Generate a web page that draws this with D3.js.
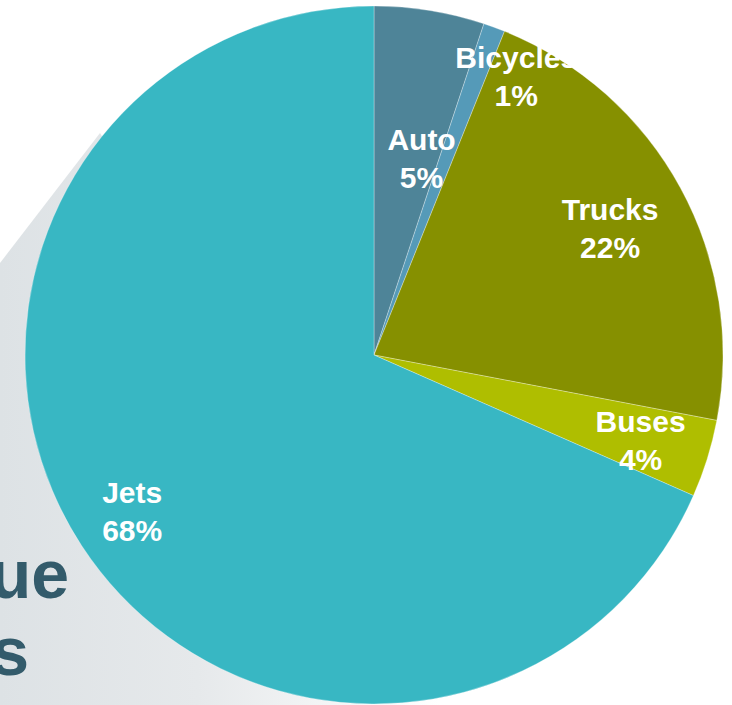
<!DOCTYPE html>
<html>
<head>
<meta charset="utf-8">
<script src="https://d3js.org/d3.v7.min.js"></script>
<style>
  body { margin: 0; background: #ffffff; }
  svg { display: block; }
</style>
</head>
<body>
<div id="pie-plot"></div>
<script>
// slice data (share of revenue, %)
var categories = ["Auto", "Bicycles", "Trucks", "Buses", "Jets"];
var shares = [5.1, 1.0, 21.9, 3.6, 68.4];
var shareLabels = ["5%", "1%", "22%", "4%", "68%"];
var sliceColors = ["#4e8498", "#559ab8", "#869000", "#afbe00", "#38b7c3"];

// the slide title sitting behind the pie (cut off at the left edge)
var titleLines = ["Revenue", "by Sectors"];

var width = 732,
    height = 705,
    radius = 349,
    cx = 374,
    cy = 355;

var svg = d3.select("#pie-plot")
  .append("svg")
    .attr("width", width)
    .attr("height", height);

// grey backdrop panel with a soft gradient to white
var defs = svg.append("defs");
var grad = defs.append("linearGradient")
  .attr("id", "panel-grad")
  .attr("x1", "0%").attr("x2", "100%")
  .attr("y1", "0%").attr("y2", "0%");
grad.append("stop").attr("offset", "0%").attr("stop-color", "#dde2e5");
grad.append("stop").attr("offset", "45%").attr("stop-color", "#e6e9eb");
grad.append("stop").attr("offset", "100%").attr("stop-color", "#ffffff");

svg.append("path")
  .attr("d", "M0,263 L100,133 L440,705 L0,705 Z")
  .attr("fill", "url(#panel-grad)");

// title text, right end visible only
svg.selectAll(".title")
  .data(titleLines)
  .enter()
  .append("text")
    .attr("class", "title")
    .attr("x", function(d, i) { return i == 0 ? 69 : 29; })
    .attr("y", function(d, i) { return 598 + i * 77; })
    .attr("text-anchor", "end")
    .style("font-family", "Liberation Sans, Arial, sans-serif")
    .style("font-weight", "bold")
    .style("font-size", "68px")
    .attr("fill", "#335b6b")
    .text(function(d) { return d; });

// the pie itself
var data = categories.map(function(c, i) {
  return {name: c, value: shares[i], label: shareLabels[i], color: sliceColors[i]};
});

var pie = d3.pie()
  .sort(null)
  .value(function(d) { return d.value; });

var arc = d3.arc()
  .innerRadius(0)
  .outerRadius(radius);

var g = svg.append("g")
  .attr("transform", "translate(" + cx + "," + cy + ")");

var arcs = pie(data);

g.selectAll("path.slice")
  .data(arcs)
  .enter()
  .append("path")
    .attr("class", "slice")
    .attr("d", arc)
    .attr("fill", function(d) { return d.data.color; })
    .attr("stroke", "#ffffff")
    .attr("stroke-opacity", 0.5)
    .attr("stroke-width", 0.6);

// labels sit on a ring at ~80% radius, small slices nudged like Excel does
var labelArc = d3.arc()
  .innerRadius(radius * 0.8)
  .outerRadius(radius * 0.8);

var nudge = {
  Auto: [3, 79],
  Bicycles: [46, -17],
  Trucks: [-9, 7],
  Buses: [0, 2],
  Jets: [-8, 3]
};

var labels = g.selectAll("g.label")
  .data(arcs)
  .enter()
  .append("g")
    .attr("class", "label")
    .attr("transform", function(d) {
      var c = labelArc.centroid(d);
      var n = nudge[d.data.name];
      return "translate(" + (c[0] + n[0]) + "," + (c[1] + n[1]) + ")";
    });

labels.append("text")
  .attr("y", -8)
  .attr("text-anchor", "middle")
  .style("font-family", "Liberation Sans, Arial, sans-serif")
  .style("font-weight", "bold")
  .style("font-size", "30px")
  .attr("fill", "#ffffff")
  .text(function(d) { return d.data.name; });

labels.append("text")
  .attr("y", 30)
  .attr("text-anchor", "middle")
  .style("font-family", "Liberation Sans, Arial, sans-serif")
  .style("font-weight", "bold")
  .style("font-size", "30px")
  .attr("fill", "#ffffff")
  .text(function(d) { return d.data.label; });
</script>
</body>
</html>
